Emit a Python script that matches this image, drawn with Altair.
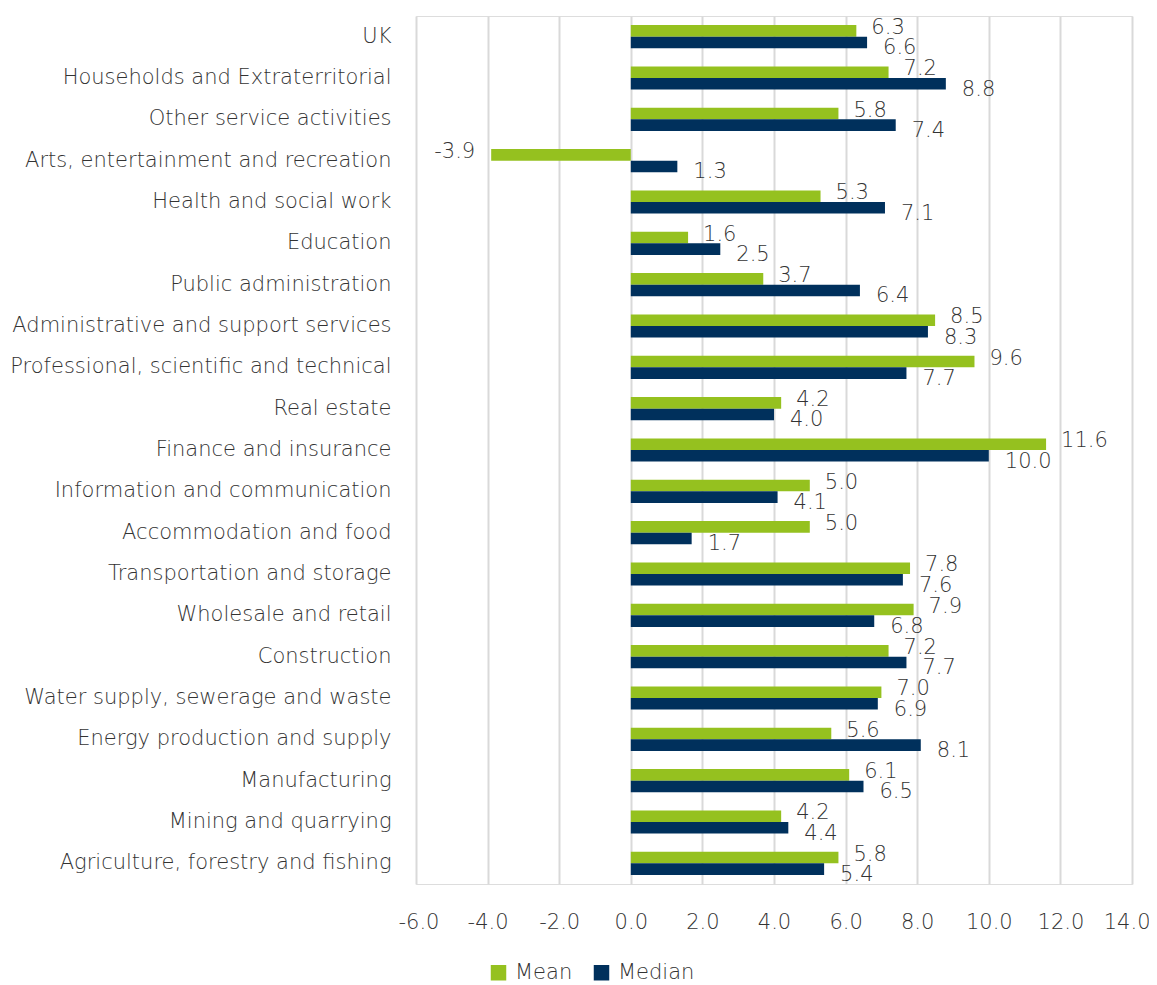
import altair as alt
import pandas as pd

categories = [
    "UK", "Households and Extraterritorial", "Other service activities",
    "Arts, entertainment and recreation", "Health and social work", "Education",
    "Public administration", "Administrative and support services",
    "Professional, scientific and technical", "Real estate", "Finance and insurance",
    "Information and communication", "Accommodation and food ",
    "Transportation and storage", "Wholesale and retail", "Construction",
    "Water supply, sewerage and waste", "Energy production and supply",
    "Manufacturing", "Mining and quarrying", "Agriculture, forestry and fishing",
]
mean_vals = [6.3, 7.2, 5.8, -3.9, 5.3, 1.6, 3.7, 8.5, 9.6, 4.2, 11.6, 5.0, 5.0,
             7.8, 7.9, 7.2, 7.0, 5.6, 6.1, 4.2, 5.8]
median_vals = [6.6, 8.8, 7.4, 1.3, 7.1, 2.5, 6.4, 8.3, 7.7, 4.0, 10.0, 4.1, 1.7,
               7.6, 6.8, 7.7, 6.9, 8.1, 6.5, 4.4, 5.4]
series = ["Mean", "Median"]
colors = ["#95C11F", "#00305C"]

rows = []
for c, m, md in zip(categories, mean_vals, median_vals):
    rows.append({"cat": c, "series": "Mean", "value": m})
    rows.append({"cat": c, "series": "Median", "value": md})
df = pd.DataFrame(rows)

FONT = "DejaVu Sans"
WEIGHT = 200
TXT = "#333333"

y_enc = alt.Y("cat:N", sort=categories,
              scale=alt.Scale(paddingInner=0.44, paddingOuter=0.22),
              axis=alt.Axis(title=None, domain=False, ticks=False, labelPadding=25,
                            labelFontSize=21, labelFont=FONT, labelFontWeight=WEIGHT,
                            labelColor=TXT, labelLimit=500))
x_enc = alt.X("value:Q", scale=alt.Scale(domain=[-6, 14], nice=False),
              axis=alt.Axis(title=None, values=list(range(-6, 15, 2)),
                            labelExpr="replace(format(datum.value, '.1f'), '\u2212', '-')",
                            domain=False, ticks=False, labelPadding=27,
                            labelFlush=True, labelFlushOffset=18, labelOverlap=False,
                            labelFontSize=21, labelFont=FONT, labelFontWeight=WEIGHT,
                            labelColor=TXT, gridColor="#D9D9D9", gridWidth=2))
yoff = alt.YOffset("series:N", sort=series)

base = alt.Chart(df).transform_calculate(
    lab="replace(format(datum.value, '.1f'), '\u2212', '-')"
)

bars = base.mark_bar(stroke=None).encode(
    y=y_enc, x=x_enc, yOffset=yoff,
    color=alt.Color("series:N", sort=series,
                    scale=alt.Scale(domain=series, range=colors),
                    legend=alt.Legend(title=None, orient="none", direction="horizontal",
                                      legendX=72, legendY=946, symbolType="square",
                                      symbolSize=240, symbolStrokeWidth=0,
                                      labelFontSize=21, labelFont=FONT,
                                      labelFontWeight=WEIGHT, labelColor=TXT,
                                      columnPadding=18, labelOffset=6, labelLimit=200)),
)

text_common = dict(fontSize=21, font=FONT, fontWeight=WEIGHT, color=TXT, baseline="middle")

mean_pos = base.transform_filter("datum.series == 'Mean' && datum.value >= 0").mark_text(
    align="left", dx=15, dy=-3, **text_common).encode(
    y=y_enc, x=x_enc, yOffset=yoff, text="lab:N")
mean_neg = base.transform_filter("datum.series == 'Mean' && datum.value < 0").mark_text(
    align="right", dx=-16, dy=-3, **text_common).encode(
    y=y_enc, x=x_enc, yOffset=yoff, text="lab:N")
median_lab = base.transform_filter("datum.series == 'Median'").mark_text(
    align="left", dx=16, dy=6, **text_common).encode(
    y=y_enc, x=x_enc, yOffset=yoff, text="lab:N")

chart = alt.layer(bars, mean_pos, mean_neg, median_lab).properties(
    width=716, height=868,
    autosize=alt.AutoSizeParams(type="none"),
    padding={"left": 408, "top": 8, "right": 17, "bottom": 100},
).configure_view(stroke=None).configure(font=FONT)

chart.save("out.html", embed_options={"renderer": "svg", "actions": False})
